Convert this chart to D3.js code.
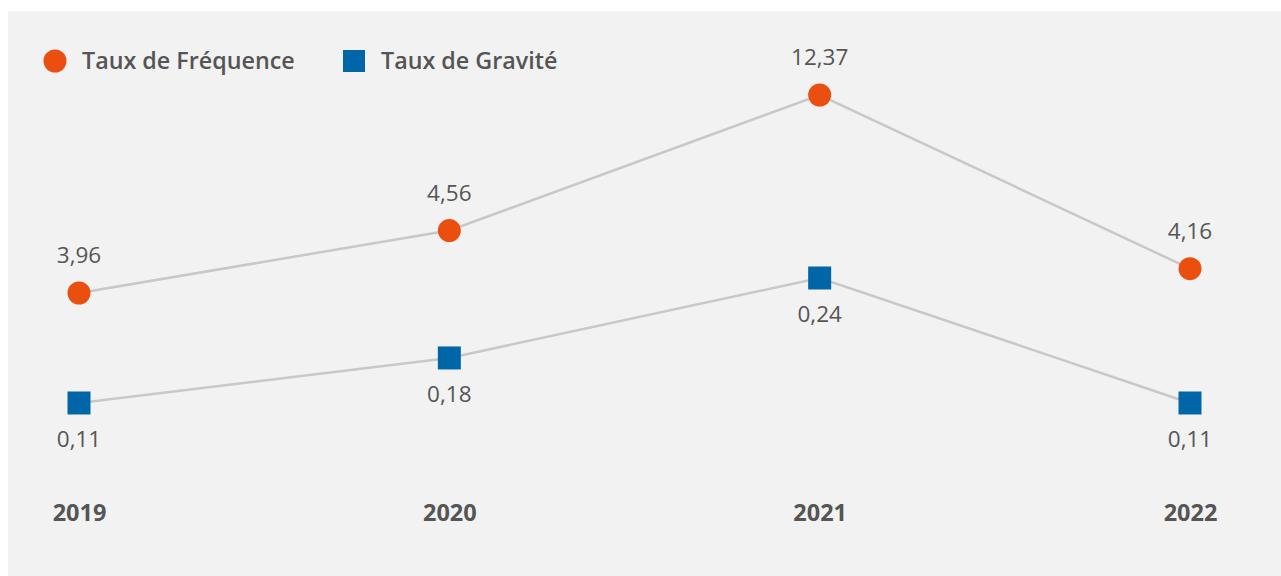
<!DOCTYPE html>
<html lang="fr">
<head>
<meta charset="utf-8">
<script src="https://cdn.jsdelivr.net/npm/d3@7/dist/d3.min.js"></script>
<style>
  html, body { margin: 0; padding: 0; background: #ffffff; }
  svg { display: block; }
</style>
</head>
<body>
<svg id="chart" width="1281" height="576"></svg>
<script>
// Années et indicateurs de sécurité
const years = ["2019", "2020", "2021", "2022"];
const tauxFrequence = [3.96, 4.56, 12.37, 4.16];
const tauxGravite = [0.11, 0.18, 0.24, 0.11];
const legendLabels = ["Taux de Fréquence", "Taux de Gravité"];

const orange = "#ea4f0f";
const blue = "#0066a8";
const textColor = "#555555";
const lineColor = "#c8c8c8";

const svg = d3.select("#chart");
const fmt = v => d3.format(".2f")(v).replace(".", ",");

// panneau de fond
svg.append("rect")
  .attr("x", 8).attr("y", 11)
  .attr("width", 1273).attr("height", 565)
  .attr("fill", "#f2f2f2");

const x = d3.scalePoint().domain(years).range([79, 1190]);

// chaque série a sa propre échelle verticale, compressée différemment
const yFreq = d3.scalePow().exponent(-2.5)
  .domain(d3.extent(tauxFrequence)).range([293, 95]);
const yGrav = d3.scalePow().exponent(3)
  .domain(d3.extent(tauxGravite)).range([403, 278]);

const line = (ys) => d3.line()
  .x((d, i) => x(years[i]))
  .y(d => ys(d));

// lignes de liaison
svg.append("path")
  .datum(tauxFrequence)
  .attr("d", line(yFreq))
  .attr("fill", "none")
  .attr("stroke", lineColor)
  .attr("stroke-width", 2.5);

svg.append("path")
  .datum(tauxGravite)
  .attr("d", line(yGrav))
  .attr("fill", "none")
  .attr("stroke", lineColor)
  .attr("stroke-width", 2.5);

// points : cercles pour la fréquence
svg.append("g").selectAll("circle")
  .data(tauxFrequence)
  .join("circle")
  .attr("cx", (d, i) => x(years[i]))
  .attr("cy", d => yFreq(d))
  .attr("r", 11.5)
  .attr("fill", orange);

// carrés pour la gravité
const sq = 23;
svg.append("g").selectAll("rect")
  .data(tauxGravite)
  .join("rect")
  .attr("x", (d, i) => x(years[i]) - sq / 2)
  .attr("y", d => yGrav(d) - sq / 2)
  .attr("width", sq).attr("height", sq)
  .attr("fill", blue);

// valeurs
svg.append("g").selectAll("text")
  .data(tauxFrequence)
  .join("text")
  .attr("x", (d, i) => x(years[i]))
  .attr("y", d => yFreq(d) - 30)
  .attr("text-anchor", "middle")
  .attr("font-family", "'Open Sans', sans-serif")
  .attr("font-size", 22.5)
  .attr("fill", textColor)
  .text(d => fmt(d));

svg.append("g").selectAll("text")
  .data(tauxGravite)
  .join("text")
  .attr("x", (d, i) => x(years[i]))
  .attr("y", d => yGrav(d) + 44)
  .attr("text-anchor", "middle")
  .attr("font-family", "'Open Sans', sans-serif")
  .attr("font-size", 22.5)
  .attr("fill", textColor)
  .text(d => fmt(d));

// axe des années
const xAxis = svg.append("g")
  .attr("transform", "translate(0,521)")
  .call(d3.axisBottom(x).tickSize(0).tickPadding(0));
xAxis.select(".domain").remove();
xAxis.selectAll("text")
  .attr("dy", 0)
  .attr("font-family", "'Open Sans', sans-serif")
  .attr("font-size", 23.5)
  .attr("font-weight", 700)
  .attr("fill", textColor);

// légende
const legend = svg.append("g");
legend.append("circle")
  .attr("cx", 55).attr("cy", 61).attr("r", 11.5)
  .attr("fill", orange);
legend.append("text")
  .attr("x", 82).attr("y", 69)
  .attr("font-family", "'Open Sans', sans-serif")
  .attr("font-size", 23.3)
  .attr("font-weight", 600)
  .attr("fill", textColor)
  .text(legendLabels[0]);
legend.append("rect")
  .attr("x", 343).attr("y", 50)
  .attr("width", 22).attr("height", 22)
  .attr("fill", blue);
legend.append("text")
  .attr("x", 381).attr("y", 69)
  .attr("font-family", "'Open Sans', sans-serif")
  .attr("font-size", 23.3)
  .attr("font-weight", 600)
  .attr("fill", textColor)
  .text(legendLabels[1]);
</script>
</body>
</html>
